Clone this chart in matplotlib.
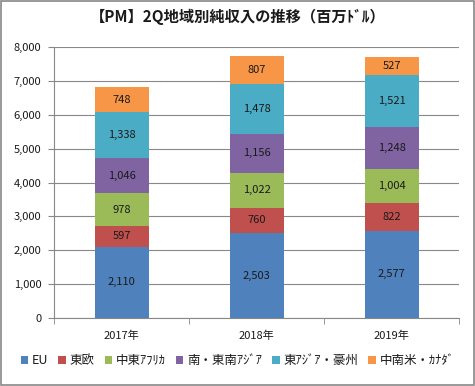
import matplotlib.pyplot as plt
import matplotlib.ticker as mticker
from matplotlib.patches import Rectangle

plt.rcParams['font.family'] = ['Noto Sans CJK JP', 'DejaVu Sans']

# ---------- Data ----------
years = ["2017年", "2018年", "2019年"]
regions = ["EU", "東欧", "中東ｱﾌﾘｶ", "南・東南ｱｼﾞｱ", "東ｱｼﾞｱ・豪州", "中南米・ｶﾅﾀﾞ"]
eu = [2110, 2503, 2577]
east_eu = [597, 760, 822]
me_africa = [978, 1022, 1004]
s_se_asia = [1046, 1156, 1248]
e_asia_au = [1338, 1478, 1521]
latam_ca = [748, 807, 527]
series = [eu, east_eu, me_africa, s_se_asia, e_asia_au, latam_ca]
yticks = [0, 1000, 2000, 3000, 4000, 5000, 6000, 7000, 8000]

COLORS = ["#4F81BD", "#C0504D", "#9BBB59", "#8064A2", "#4BACC6", "#F79646"]
TEXT = "#1a1a1a"

fig = plt.figure(figsize=(4.75, 3.86), dpi=100)
fig.patch.set_facecolor("white")
ax = fig.add_axes([0.1137, 0.176, 0.853, 0.702])

x = list(range(len(years)))
bottom = [0, 0, 0]
for vals, col, name in zip(series, COLORS, regions):
    ax.bar(x, vals, width=0.4, bottom=bottom, color=col, label=name, zorder=3)
    for xi, v, b in zip(x, vals, bottom):
        ax.text(xi, b + v / 2, f"{v:,}", ha="center", va="center",
                fontsize=8, color=TEXT, zorder=4)
    bottom = [b + v for b, v in zip(bottom, vals)]

ax.set_xlim(-0.5, 2.5)
ax.set_ylim(0, 8000)
ax.set_yticks(yticks)
ax.yaxis.set_major_formatter(mticker.FuncFormatter(lambda v, p: f"{int(v):,}"))
ax.set_xticks(x)
ax.set_xticklabels(years)
ax.set_xticks([-0.5, 0.5, 1.5, 2.5], minor=True)
ax.tick_params(axis="x", which="major", length=0, pad=9, labelsize=8, colors=TEXT)
ax.tick_params(axis="x", which="minor", length=4, color="#888888", direction="out")
ax.tick_params(axis="y", length=4, color="#888888", labelsize=8, colors=TEXT, pad=5)
for lab in ax.get_yticklabels() + ax.get_xticklabels():
    lab.set_color(TEXT)
ax.grid(axis="y", color="#888888", linewidth=0.8, zorder=0)
ax.spines["top"].set_visible(False)
ax.spines["right"].set_visible(False)
ax.spines["left"].set_color("#888888")
ax.spines["bottom"].set_color("#888888")

fig.text(0.5, 0.955, "【PM】2Q地域別純収入の推移（百万ﾄﾞﾙ）", ha="center", va="center",
         fontsize=11, fontweight="bold", color=TEXT)

leg = fig.legend(loc="center", bbox_to_anchor=(0.5, 0.066), ncol=6, frameon=False,
                 fontsize=9, handlelength=0.6, handleheight=0.6, handletextpad=0.3,
                 columnspacing=0.8)
for t in leg.get_texts():
    t.set_color(TEXT)

fig.patches.append(Rectangle((0.002, 0.002), 0.996, 0.996, transform=fig.transFigure,
                             fill=False, edgecolor="#888888", linewidth=1.2))

fig.savefig("out.png", dpi=100, facecolor="white")
